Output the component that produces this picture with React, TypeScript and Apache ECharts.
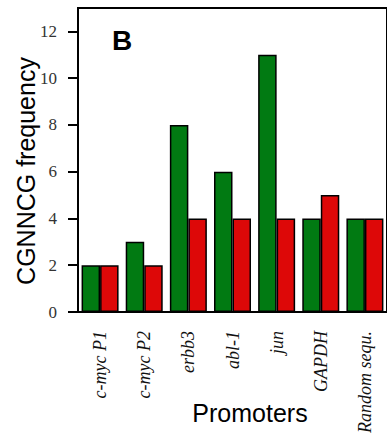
import React, { useEffect, useRef } from "react";
import * as echarts from "echarts";

const categories = ["c-myc P1", "c-myc P2", "erbb3", "abl-1", "jun", "GAPDH", "Random sequ."];
const greenValues = [2, 3, 8, 6, 11, 4, 4];
const redValues = [2, 2, 4, 4, 4, 5, 4];
const yTicks = [0, 2, 4, 6, 8, 10, 12];

export default function App() {
  const ref = useRef<HTMLDivElement>(null);
  useEffect(() => {
    if (!ref.current) return;
    const chart = echarts.init(ref.current, null, { renderer: "svg" });
    chart.setOption({
      animation: false,
      backgroundColor: "#ffffff",
      grid: {
        left: 78,
        top: 8,
        width: 314,
        height: 304,
        show: true,
        borderColor: "#000",
        borderWidth: 2,
      },
      xAxis: {
        type: "category",
        data: categories,
        axisLine: { lineStyle: { color: "#000", width: 2 } },
        axisTick: { alignWithLabel: true, length: 10, lineStyle: { color: "#000", width: 1.5 } },
        axisLabel: {
          rotate: 90,
          margin: 19,
          fontFamily: "Liberation Serif",
          fontStyle: "italic",
          fontSize: 18,
          color: "#111",
          padding: [0, 0, 0, 0],
        },
      },
      yAxis: {
        type: "value",
        min: 0,
        max: 13,
        interval: 2,
        splitLine: { show: false },
        axisLine: { show: true, lineStyle: { color: "#000", width: 2 } },
        axisTick: { show: true, length: 10, lineStyle: { color: "#000", width: 2 }, customValues: yTicks },
        axisLabel: {
          margin: 21,
          fontFamily: "Liberation Serif",
          fontSize: 17,
          color: "#333",
          customValues: yTicks,
        },
      },
      graphic: [
        {
          type: "text",
          x: 26,
          y: 171,
          rotation: Math.PI / 2,
          style: {
            text: "CGNNCG frequency",
            font: "25px 'Liberation Sans'",
            fill: "#000",
            textAlign: "center",
            textVerticalAlign: "middle",
          },
        },
        {
          type: "text",
          x: 250,
          y: 413,
          style: {
            text: "Promoters",
            font: "25px 'Liberation Sans'",
            fill: "#000",
            textAlign: "center",
            textVerticalAlign: "middle",
          },
        },
        {
          type: "text",
          x: 122,
          y: 40,
          style: {
            text: "B",
            font: "bold 28px 'Liberation Sans'",
            fill: "#000",
            textAlign: "center",
            textVerticalAlign: "middle",
          },
        },
      ],
      series: [
        {
          type: "bar",
          data: greenValues,
          barWidth: 18.5,
          barGap: "0%",
          itemStyle: { color: "#017A12", borderColor: "#000", borderWidth: 1.5 },
        },
        {
          type: "bar",
          data: redValues,
          barWidth: 18.5,
          barGap: "0%",
          itemStyle: { color: "#DD0808", borderColor: "#000", borderWidth: 1.5 },
        },
      ],
    });
    return () => chart.dispose();
  }, []);
  return <div ref={ref} style={{ width: 387, height: 441, position: "absolute", left: 0, top: 0 }} />;
}
